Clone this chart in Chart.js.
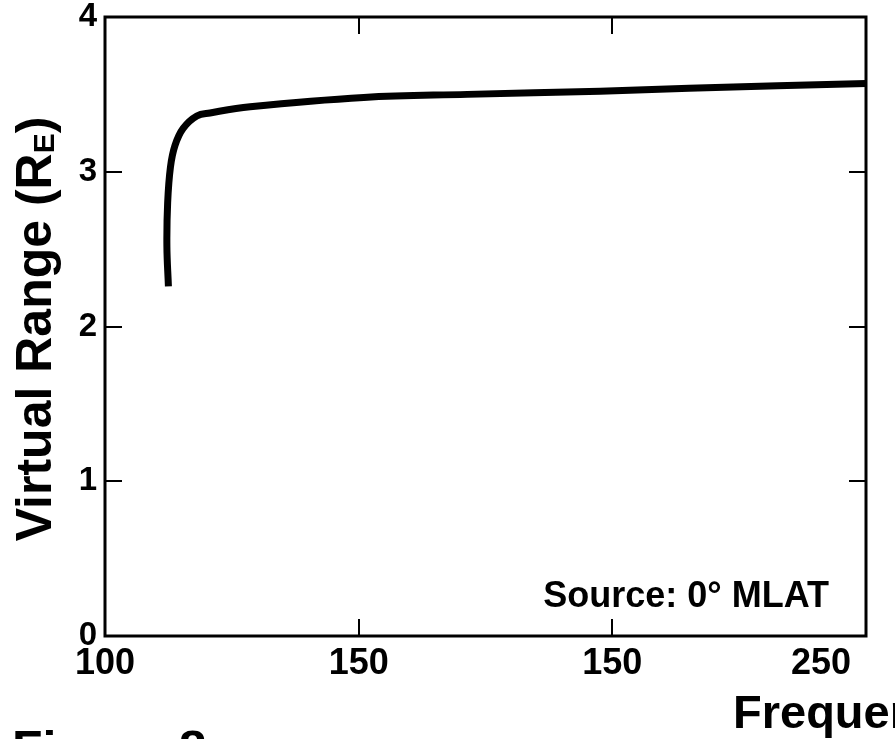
<!DOCTYPE html>
<html lang="en">
<head>
<meta charset="UTF-8">
<title>Virtual Range vs Frequency</title>
<script src="https://cdn.jsdelivr.net/npm/chart.js"></script>
<style>
  body { margin: 0; background: #fff; }
  #wrap { width: 895px; height: 739px; }
</style>
</head>
<body>
<div id="wrap"><canvas id="rangeChart" width="895" height="739"></canvas></div>
<script>
// virtual range of the echo vs sounding frequency (source at 0° MLAT)
const freq = [112.5, 112.2, 112.35, 112.9, 113.8, 115.4, 118.1, 120.7, 128.6, 151.0, 171.4, 197.6, 215.1, 250];
const virtualRange = [2.26, 2.52, 2.80, 3.03, 3.17, 3.28, 3.36, 3.38, 3.42, 3.48, 3.50, 3.52, 3.54, 3.57];

const xTickValues = [100, 150, 200, 250];
const xTickLabels = ['100', '150', '150', '250'];
const yTickValues = [0, 1, 2, 3, 4];

const FONT = '"Liberation Sans", Arial, Helvetica, sans-serif';

// frame, inward ticks, x labels, axis titles and the note
const decorations = {
    id: 'decorations',
    afterDraw(chart) {
        const ctx = chart.ctx;
        const area = chart.chartArea;
        const xs = chart.scales.x;
        const ys = chart.scales.y;
        ctx.save();
        ctx.fillStyle = '#000';
        ctx.strokeStyle = '#000';

        // plot frame
        ctx.lineWidth = 3;
        ctx.strokeRect(area.left, area.top, area.right - area.left, area.bottom - area.top);

        // inward ticks on all four sides
        ctx.lineWidth = 2;
        const tickLen = 17;
        ctx.beginPath();
        yTickValues.slice(1, -1).forEach(v => {
            const py = Math.round(ys.getPixelForValue(v));
            ctx.moveTo(area.left, py); ctx.lineTo(area.left + tickLen, py);
            ctx.moveTo(area.right, py); ctx.lineTo(area.right - tickLen, py);
        });
        xTickValues.slice(1, -1).forEach(v => {
            const px = Math.round(xs.getPixelForValue(v));
            ctx.moveTo(px, area.bottom); ctx.lineTo(px, area.bottom - tickLen);
            ctx.moveTo(px, area.top); ctx.lineTo(px, area.top + tickLen);
        });
        ctx.stroke();

        // x tick labels
        ctx.font = 'bold 36px ' + FONT;
        ctx.textBaseline = 'alphabetic';
        xTickValues.forEach((v, i) => {
            const px = xs.getPixelForValue(v);
            const last = i === xTickValues.length - 1;
            ctx.textAlign = last ? 'right' : 'center';
            ctx.fillText(xTickLabels[i], last ? px - 15 : px, area.bottom + 38);
        });

        // y axis title with subscript E
        const big = 'bold 50px ' + FONT;
        const small = 'bold 30px ' + FONT;
        ctx.font = big;
        const partA = 'Virtual Range (R';
        const wA = ctx.measureText(partA).width;
        const wC = ctx.measureText(')').width;
        ctx.font = small;
        const wB = ctx.measureText('E').width;
        const total = wA + wB + wC;
        ctx.translate(51, 329);
        ctx.rotate(-Math.PI / 2);
        ctx.textAlign = 'left';
        let cx = -total / 2;
        ctx.font = big;
        ctx.fillText(partA, cx, 0);
        cx += wA;
        ctx.font = small;
        ctx.fillText('E', cx, 3);
        cx += wB;
        ctx.font = big;
        ctx.fillText(')', cx, 0);
        ctx.setTransform(1, 0, 0, 1, 0, 0);

        // x axis title and figure label, running off the page edge
        ctx.textAlign = 'left';
        ctx.font = 'bold 47px ' + FONT;
        ctx.fillText('Frequency (kHz)', 733, 728);
        ctx.font = 'bold 50px ' + FONT;
        ctx.fillText('Figure 8', 12, 766);

        // source note
        ctx.font = 'bold 36px ' + FONT;
        ctx.textAlign = 'right';
        ctx.fillText('Source: 0° MLAT', 829, 607);
        ctx.restore();
    }
};

new Chart(document.getElementById('rangeChart'), {
    type: 'line',
    data: {
        datasets: [{
            data: freq.map((f, i) => ({ x: f, y: virtualRange[i] })),
            borderColor: '#000',
            borderWidth: 7,
            borderCapStyle: 'butt',
            pointRadius: 0,
            tension: 0.4,
            fill: false
        }]
    },
    options: {
        responsive: false,
        animation: false,
        layout: { padding: { top: 17, right: 29, left: 0, bottom: 0 } },
        plugins: { legend: { display: false }, tooltip: { enabled: false } },
        scales: {
            x: {
                type: 'linear',
                min: 100,
                max: 250,
                grid: { display: false, drawTicks: false },
                border: { display: false },
                ticks: { display: false },
                afterFit(scale) {
                    scale.height = 103;
                    scale.paddingLeft = scale.paddingRight = 0;
                }
            },
            y: {
                min: 0,
                max: 4,
                grid: { display: false, drawTicks: false },
                border: { display: false },
                ticks: {
                    stepSize: 1,
                    padding: 8,
                    color: '#000',
                    font: { family: FONT, size: 33, weight: 'bold' }
                },
                afterFit(scale) {
                    scale.width = 105;
                    scale.paddingTop = scale.paddingBottom = 0;
                }
            }
        }
    },
    plugins: [decorations]
});
</script>
</body>
</html>
